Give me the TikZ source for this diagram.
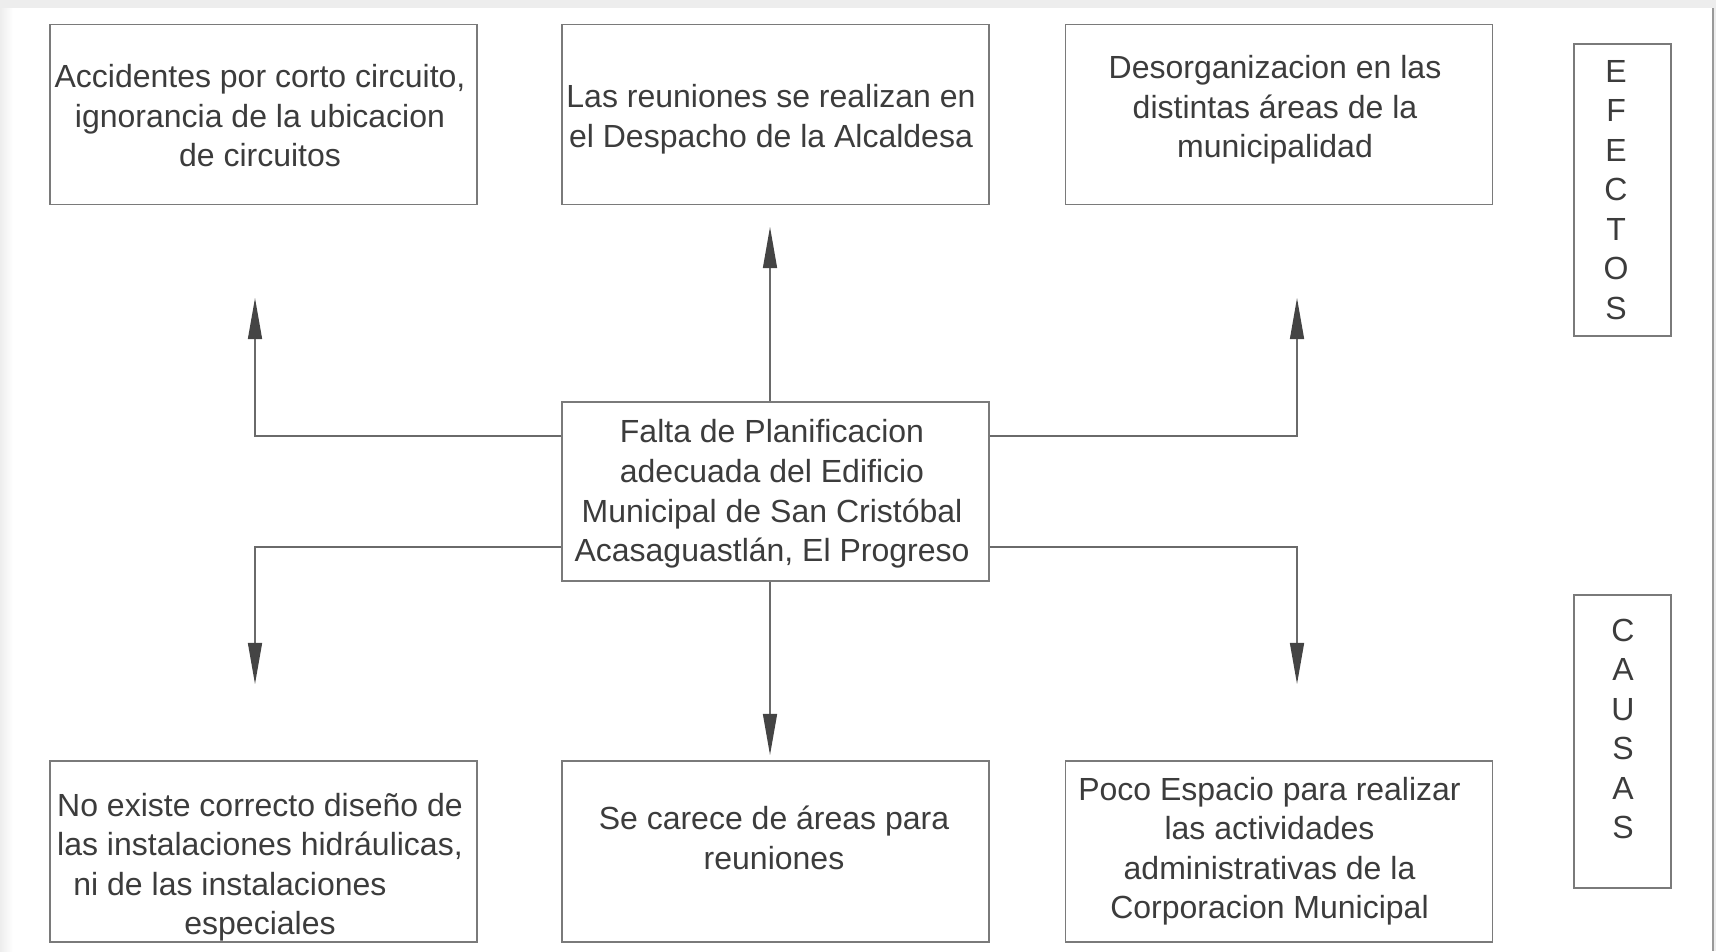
\documentclass[tikz,border=0pt]{standalone}
\usepackage{fontspec}
\setmainfont{Liberation Sans}
\usetikzlibrary{arrows.meta}
\definecolor{borde}{HTML}{7A7A7A}
\definecolor{linea}{HTML}{6A6A6A}
\definecolor{letra}{HTML}{3C3C3C}
\definecolor{punta}{HTML}{444444}
\definecolor{fondo}{HTML}{EDEDED}

\begin{document}
\begin{tikzpicture}[x=0.01cm, y=-0.01cm,
    caja/.style = {draw=borde, line width=0.45pt, minimum width=4.27cm, minimum height=1.80cm, inner sep=0pt},
    lado/.style = {draw=borde, line width=0.45pt, minimum width=0.97cm, minimum height=2.92cm, inner sep=0pt},
    texto/.style = {align=center, text=letra, font=\fontsize{9.1}{11.24}\selectfont, inner sep=0pt},
    flecha/.style = {draw=linea, line width=0.4pt, -{Triangle[length=0.41cm, width=0.14cm, color=punta]}}]
    % marco
    \useasboundingbox (0,0) rectangle (1716,951);
    \fill[fondo] (0,0) rectangle (1716,951);
    \shade[left color=fondo, right color=white] (0,8) rectangle (13,951);
    \fill[white] (13,8) rectangle (1712,951);
    \draw[gray!80, line width=0.6pt] (1713,8) -- (1713,951);
    % efectos
    \node[caja] (ef1) at (263.5,114.5) {};
    \node[caja] (ef2) at (775.5,114.5) {};
    \node[caja] (ef3) at (1279,114.5) {};
    \node[texto] (ef1t) at (260,116) {Accidentes por corto circuito,\\ ignorancia de la ubicacion\\ de circuitos};
    \node[texto] (ef2t) at (771,119) {Las reuniones se realizan en\\ el Despacho de la Alcaldesa};
    \node[texto] (ef3t) at (1275,110) {Desorganizacion en las\\ distintas áreas de la\\ municipalidad};
    % problema
    \node[caja, minimum height=1.79cm] (prob) at (775.5,491.5) {};
    \node[texto] (probt) at (772,494) {Falta de Planificacion\\ adecuada del Edificio\\ Municipal de San Cristóbal\\ Acasaguastlán, El Progreso};
    % causas
    \node[caja, minimum height=1.81cm] (ca1) at (263.5,851.5) {};
    \node[caja, minimum height=1.81cm] (ca2) at (775.5,851.5) {};
    \node[caja, minimum height=1.81cm] (ca3) at (1279,851.5) {};
    \node[texto] (ca1t) at (260,867) {No existe correcto diseño de\\ las instalaciones hidráulicas,\\ ni de las instalaciones\hspace*{0.6cm}\null\\ especiales};
    \node[texto] (ca2t) at (774,838) {Se carece de áreas para\\ reuniones};
    \node[texto] (ca3t) at (1269.5,851) {Poco Espacio para realizar\\ las actividades\\ administrativas de la\\ Corporacion Municipal};
    % rotulos laterales
    \node[lado] (efectos) at (1622.5,190) {};
    \node[lado, minimum height=2.93cm] (causas) at (1622.5,741.5) {};
    \node[texto] (efectost) at (1616,190) {E\\ F\\ E\\ C\\ T\\ O\\ S};
    \node[texto] (causast) at (1623,729) {C\\ A\\ U\\ S\\ A\\ S};
    % puntas libres
    \coordinate (a1) at (255,298);
    \coordinate (a2) at (770,227);
    \coordinate (a3) at (1297,298);
    \coordinate (a4) at (255,684);
    \coordinate (a5) at (770,755);
    \coordinate (a6) at (1297,684);
    \draw[flecha] (prob.west |- 0,436) -| (a1);
    \draw[flecha] (prob.north -| a2) -- (a2);
    \draw[flecha] (prob.east |- 0,436) -| (a3);
    \draw[flecha] (prob.west |- 0,547) -| (a4);
    \draw[flecha] (prob.south -| a5) -- (a5);
    \draw[flecha] (prob.east |- 0,547) -| (a6);
\end{tikzpicture}
\end{document}
